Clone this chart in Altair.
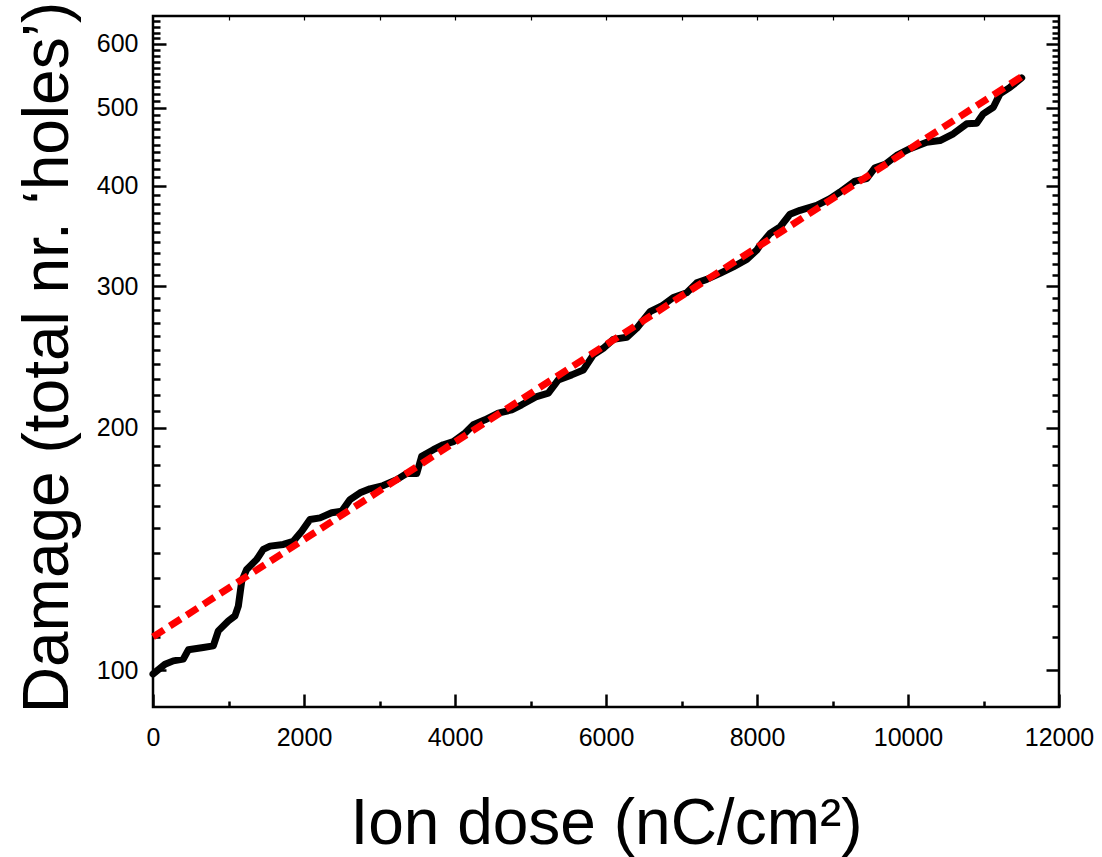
import altair as alt
import pandas as pd

# Measured curve (ion dose in nC/cm^2, damage = total nr. of holes)
dose = [0, 159, 269, 401, 468, 666, 799, 865, 997, 1086,
        1130, 1175, 1241, 1374, 1461, 1550, 1726, 1858, 1970, 2079,
        2212, 2367, 2499, 2609, 2742, 2874, 3050, 3228, 3360, 3493,
        3559, 3713, 3845, 3978, 4133, 4243, 4397, 4574, 4751, 4883,
        5082, 5236, 5368, 5546, 5699, 5832, 5964, 6097, 6274, 6407,
        6583, 6738, 6891, 7069, 7201, 7334, 7510, 7686, 7864, 7996,
        8040, 8172, 8305, 8437, 8570, 8791, 8967, 9100, 9298, 9453,
        9563, 9695, 9850, 10026, 10248, 10424, 10600, 10777, 10910, 10997,
        11130, 11218, 11351, 11506]
damage = [98.9, 101.7, 102.7, 103.2, 106.0, 106.7, 107.2, 111.9, 115.1, 116.8,
          120.1, 129.0, 133.4, 137.3, 141.3, 142.6, 143.3, 144.6, 148.8, 153.9,
          154.6, 156.9, 157.6, 162.9, 166.1, 168.0, 169.6, 172.5, 175.5, 175.5,
          184.4, 187.9, 190.6, 192.3, 197.1, 201.8, 204.7, 208.7, 210.6, 213.7,
          218.8, 220.9, 229.5, 232.8, 236.1, 246.5, 251.2, 257.7, 259.2, 266.0,
          278.9, 283.5, 290.5, 294.4, 302.9, 305.9, 311.2, 317.1, 323.9, 332.6,
          337.3, 348.8, 355.4, 368.6, 372.8, 378.2, 385.5, 392.8, 405.3, 408.1,
          421.1, 425.1, 436.1, 444.6, 453.0, 455.2, 464.0, 477.4, 478.3, 491.3,
          500.6, 520.1, 530.0, 544.5]

# Exponential fit (straight line on log axis)
fit_dose = [0, 11500]
fit_damage = [110, 546]

# Tick values
x_major = [0, 2000, 4000, 6000, 8000, 10000, 12000]
x_minor = [1000, 3000, 5000, 7000, 9000, 11000]
x_top = [1000, 2000, 3000, 4000, 5000, 6000, 7000, 8000, 9000, 10000, 11000]
y_major = [100, 200, 300, 400, 500, 600]
y_minor = [v for v in range(110, 650, 10) if v % 100 != 0]

W, H = 906, 691
LF = "Liberation Sans"
TF = "Liberation Sans"

line_df = pd.DataFrame({"dose": dose, "damage": damage})
fit_df = pd.DataFrame({"dose": fit_dose, "damage": fit_damage})

xscale = alt.Scale(domain=[0, 12000], nice=False, zero=False)
yscale = alt.Scale(type="log", domain=[90, 650], nice=False)


def tick_axis(orient, offset, values, size, width=2.5):
    return alt.Axis(orient=orient, offset=offset, values=values, labels=False,
                    domain=False, grid=False, ticks=True, tickSize=size,
                    tickWidth=width, tickColor="black", title=None)


ax_x_main = alt.Axis(orient="bottom", values=x_major, format="d", labelFont=LF,
                     labelFontSize=25, labelColor="black", labelPadding=18,
                     ticks=False, domain=False, grid=False, labelFlush=False,
                     labelOverlap=False,
                     title="Ion dose (nC/cm²)", titleFont=TF, titleFontSize=64,
                     titleFontWeight="normal", titleColor="black",
                     titleX=W / 2, titleY=136, titleAlign="center",
                     titleBaseline="alphabetic")
ax_y_main = alt.Axis(orient="left", values=y_major, format="d", labelFont=LF,
                     labelFontSize=25, labelColor="black", labelPadding=15,
                     ticks=False, domain=False, grid=False, labelOverlap=False,
                     title="Damage (total nr. ‘holes’)", titleFont=TF,
                     titleFontSize=64, titleFontWeight="normal",
                     titleColor="black", titleX=-86, titleY=341, titleAngle=270,
                     titleAlign="center", titleBaseline="alphabetic")

black = alt.Chart(line_df).mark_line(
    color="black", strokeWidth=7, strokeJoin="round", strokeCap="round"
).encode(
    x=alt.X("dose:Q", scale=xscale, axis=ax_x_main),
    y=alt.Y("damage:Q", scale=yscale, axis=ax_y_main),
)

red = alt.Chart(fit_df).mark_line(
    color="#ff0000", strokeWidth=7, strokeDash=[13, 7], strokeCap="butt"
).encode(
    x=alt.X("dose:Q", scale=xscale, axis=tick_axis("top", -H, x_major, 13)),
    y=alt.Y("damage:Q", scale=yscale, axis=tick_axis("right", -W, y_major, 13)),
)

ghost1 = alt.Chart(fit_df).mark_line(opacity=0).encode(
    x=alt.X("dose:Q", scale=xscale, axis=tick_axis("top", -H, x_minor, 6)),
    y=alt.Y("damage:Q", scale=yscale, axis=tick_axis("right", -W, y_minor, 7)),
)
ghost2 = alt.Chart(fit_df).mark_line(opacity=0).encode(
    x=alt.X("dose:Q", scale=xscale, axis=tick_axis("bottom", -H, x_top, 4, 1.2)),
    y=alt.Y("damage:Q", scale=yscale, axis=tick_axis("left", -W, y_major, 13)),
)
ghost3 = alt.Chart(fit_df).mark_line(opacity=0).encode(
    x=alt.X("dose:Q", scale=xscale, axis=None),
    y=alt.Y("damage:Q", scale=yscale, axis=tick_axis("left", -W, y_minor, 7)),
)

chart = alt.layer(black, red, ghost1, ghost2, ghost3).resolve_axis(
    x="independent", y="independent"
).properties(
    width=W, height=H,
    padding={"left": 153, "top": 16, "right": 43, "bottom": 150},
    autosize=alt.AutoSizeParams(type="none"),
    background="white",
).configure_view(stroke="black", strokeWidth=2.5)

chart.save("out.html", embed_options={"renderer": "svg", "actions": False})
